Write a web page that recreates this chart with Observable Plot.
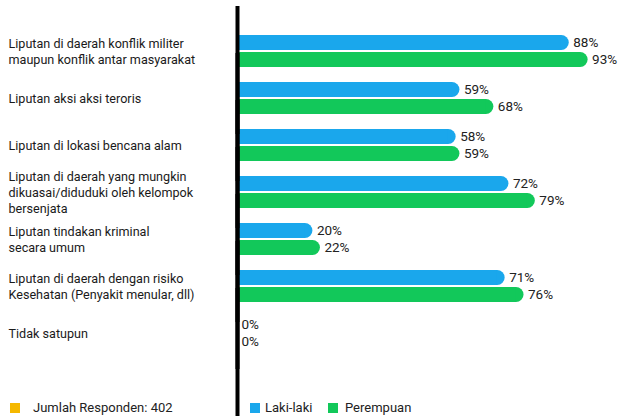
<!DOCTYPE html>
<html>
<head>
<meta charset="utf-8">
<script src="https://cdn.jsdelivr.net/npm/d3@7"></script>
<script src="https://cdn.jsdelivr.net/npm/@observablehq/plot@0.6"></script>
<style>
  body { margin: 0; background: #fff; font-family: Roboto, "Noto Sans", sans-serif; }
  #wrap { position: relative; width: 639px; height: 417px; overflow: hidden; }
  #legend { position: absolute; left: 0; top: 400px; width: 639px; height: 17px; font: 13px Roboto, sans-serif; color: #222; }
  #legend .sw { position: absolute; top: 3px; width: 10px; height: 10px; }
  #legend .tx { position: absolute; top: 0; line-height: 16px; }
</style>
</head>
<body>
<div id="wrap">
  <div id="chart"></div>
  <div id="legend"></div>
</div>
<script>
const categories = [
  "Liputan di daerah konflik militer\nmaupun konflik antar masyarakat",
  "Liputan aksi aksi teroris",
  "Liputan di lokasi bencana alam",
  "Liputan di daerah yang mungkin\ndikuasai/diduduki oleh kelompok\nbersenjata",
  "Liputan tindakan kriminal\nsecara umum",
  "Liputan di daerah dengan risiko\nKesehatan (Penyakit menular, dll)",
  "Tidak satupun"
];
const genders = ["Laki-laki", "Perempuan"];
const lakiLaki = [88, 59, 58, 72, 20, 71, 0];
const perempuan = [93, 68, 59, 79, 22, 76, 0];
const genderColors = ["#1aa7ec", "#12c85a"];
const respondentNote = "Jumlah Responden: 402";
const noteColor = "#f5b800";

const data = categories.flatMap((c, i) => [
  {cat: c, gender: genders[0], value: lakiLaki[i]},
  {cat: c, gender: genders[1], value: perempuan[i]}
]);
const catData = categories.map(c => ({cat: c}));

const chart = Plot.plot({
  width: 639,
  height: 417,
  marginLeft: 237,
  marginRight: 25,
  marginTop: 26,
  marginBottom: 60,
  style: {fontFamily: "Roboto, sans-serif", background: "#fff"},
  x: {domain: [0, 100], axis: null},
  y: {domain: genders, axis: null, paddingInner: 0.13, paddingOuter: 0.43},
  fy: {domain: categories, axis: null, paddingInner: 0, paddingOuter: 0},
  color: {domain: genders, range: genderColors},
  marks: [
    Plot.barX(data, {fy: "cat", y: "gender", x: "value", fill: "gender", rx: 7.5}),
    Plot.barX(data, {fy: "cat", y: "gender", x: "value", fill: "gender", insetRight: 8}),
    Plot.text(data, {fy: "cat", y: "gender", x: "value", text: d => d.value + "%",
      dx: 4, textAnchor: "start", fontSize: 13.5, fill: "#222"}),
    Plot.text(catData, {fy: "cat", text: "cat", frameAnchor: "left", textAnchor: "start",
      dx: -229, fontSize: 12.6, lineHeight: 1.25, fill: "#1a1a1a"}),
    Plot.ruleX([0], {stroke: "#000", strokeWidth: 4, insetTop: -21, insetBottom: -60})
  ]
});
document.getElementById("chart").appendChild(chart);

const legend = document.getElementById("legend");
const items = [
  {color: noteColor, label: respondentNote, sx: 10, tx: 33},
  {color: genderColors[0], label: genders[0], sx: 250, tx: 265},
  {color: genderColors[1], label: genders[1], sx: 328, tx: 345}
];
for (const it of items) {
  const sw = document.createElement("span");
  sw.className = "sw"; sw.style.left = it.sx + "px"; sw.style.background = it.color;
  const tx = document.createElement("span");
  tx.className = "tx"; tx.style.left = it.tx + "px"; tx.textContent = it.label;
  legend.appendChild(sw); legend.appendChild(tx);
}
</script>
</body>
</html>
